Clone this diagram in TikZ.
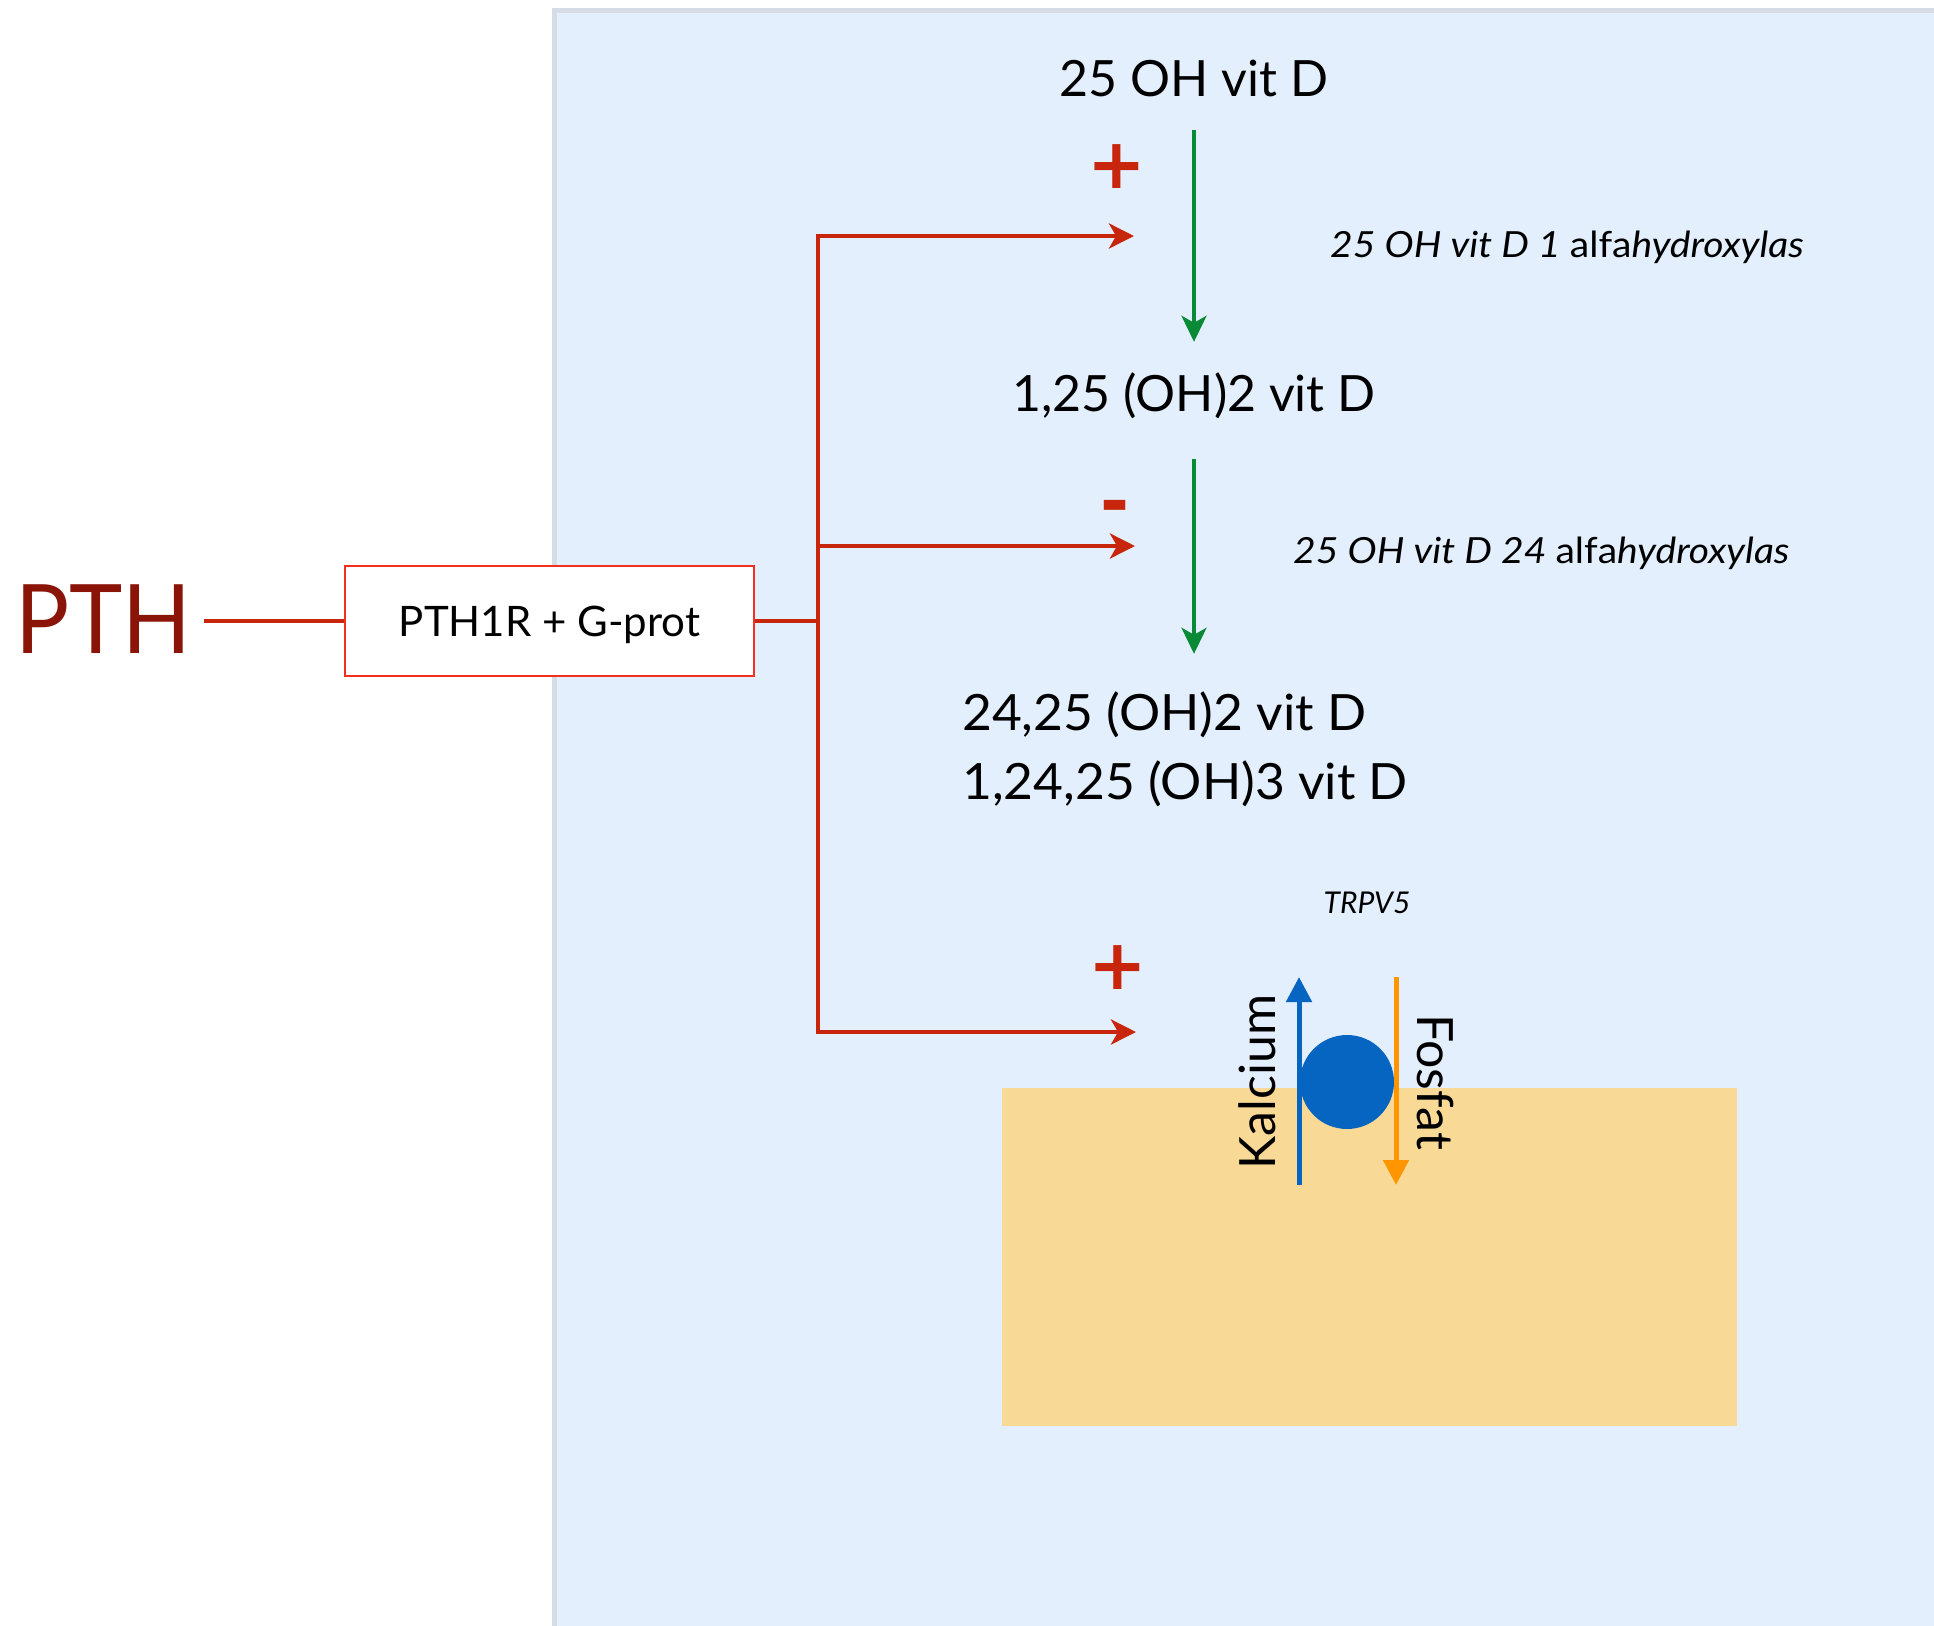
\documentclass[tikz,border=0pt]{standalone}
\usepackage{fontspec}
\setmainfont{Lato}
\newfontfamily\symfont{DejaVu Sans}
\usetikzlibrary{arrows.meta}
\definecolor{panelfill}{HTML}{E3EFFD}
\definecolor{panelborder}{HTML}{D5DCE6}
\definecolor{pthred}{HTML}{8B1408}
\definecolor{linered}{HTML}{C8260C}
\definecolor{boxred}{HTML}{F3301E}
\definecolor{vgreen}{HTML}{098A36}
\definecolor{cblue}{HTML}{0565C0}
\definecolor{porange}{HTML}{FF9500}
\definecolor{tan}{HTML}{F8D996}
\tikzset{
  big/.style={inner sep=0pt, font=\fontsize{50}{60}\selectfont, text height=36pt, text depth=0pt},
  enzyme/.style={inner sep=0pt, anchor=base west, xscale=1.085, font=\fontsize{36}{44}\selectfont},
  redline/.style={draw=linered, line width=4.5pt},
  redarrow/.style={redline, -{Stealth[length=25pt,width=25pt,inset=7pt]}},
  greenarrow/.style={draw=vgreen, line width=4pt, -{Stealth[length=26pt,width=25pt,inset=7pt]}},
  sign/.style={inner sep=0pt, text=linered, font=\symfont\bfseries\fontsize{70}{70}\selectfont},
}
\begin{document}
\begin{tikzpicture}[x=1pt,y=-1pt]
\useasboundingbox (0,0) rectangle (1934,1625);
\fill[white] (0,0) rectangle (1934,1625);
% panel
\draw[draw=panelborder, line width=5pt, fill=panelfill] (554.5,10.5) rectangle (1960,1660);
% tan region
\fill[tan] (1002,1088) rectangle (1737,1426);

% PTH and receptor
\node[inner sep=0pt, anchor=base west, xscale=0.94, text=pthred, font=\fontsize{96}{96}\selectfont] (pth) at (15,653) {PTH};
\node[draw=boxred, line width=1.8pt, fill=white, minimum width=409pt, minimum height=110pt,
      font=\fontsize{42}{50}\selectfont, text height=30pt, text depth=0pt, inner sep=0pt] (box) at (549.5,621) {PTH1R + G-prot};
\coordinate (j) at (818,621);
\coordinate (a1) at (1134,236);
\coordinate (a2) at (1135,546);
\coordinate (a3) at (1136,1032);
\draw[redline, shorten <=12pt] (pth.east |- box.west) -- (box.west);
\draw[redline] (box.east) -- (j);
\draw[redarrow] (j) |- (a1);
\draw[redarrow] (j) |- (a3);
\draw[redarrow] (a2 -| j) -- (a2);

% vitamin D chain
\node[big, anchor=base] (vd1) at (1194,96) {25 OH vit D};
\node[big, anchor=base] (vd2) at (1194,411) {1,25 (OH)2 vit D};
\node[big, anchor=base west, xscale=1.03] (vd3a) at (962,730) {24,25 (OH)2 vit D};
\node[big, anchor=base west, xscale=1.03] (vd3b) at (962,799) {1,24,25 (OH)3 vit D};
\draw[greenarrow, shorten <=34pt, shorten >=33pt] (vd1.south) -- (vd2.north);
\draw[greenarrow, shorten <=48pt, shorten >=40pt] (vd2.south) -- (vd2.south |- vd3a.north);

% enzymes
\node[enzyme] (e1) at (1330,257) {\itshape 25 OH vit D 1 \upshape alfa\itshape hydroxylas};
\node[enzyme] (e2) at (1293,563) {\itshape 25 OH vit D 24 \upshape alfa\itshape hydroxylas};

% signs
\node[sign] (s1) at (1117,167) {+};
\node[sign] (s2) at (1115,513) {-};
\node[sign] (s3) at (1118,968) {+};

% TRPV5
\node[inner sep=0pt, anchor=base, font=\itshape\fontsize{30}{36}\selectfont] (trpv) at (1367,913) {TRPV5};
\fill[cblue] (1347,1082) circle (47pt);
\coordinate (ca0) at (1299,1185);
\coordinate (ca1) at (1299,977);
\coordinate (po0) at (1396,977);
\coordinate (po1) at (1396,1185);
\draw[draw=cblue, line width=5pt, -{Triangle[length=25pt,width=25pt]}] (ca0) -- (ca1);
\draw[draw=porange, line width=5pt, -{Triangle[length=25pt,width=25pt]}] (po0) -- (po1);
\node[inner sep=0pt, rotate=90, anchor=base, font=\fontsize{50}{60}\selectfont] (kal) at (1275,1082) {Kalcium};
\node[inner sep=0pt, rotate=-90, anchor=base, font=\fontsize{50}{60}\selectfont] (fos) at (1417,1082) {Fosfat};
\end{tikzpicture}
\end{document}
